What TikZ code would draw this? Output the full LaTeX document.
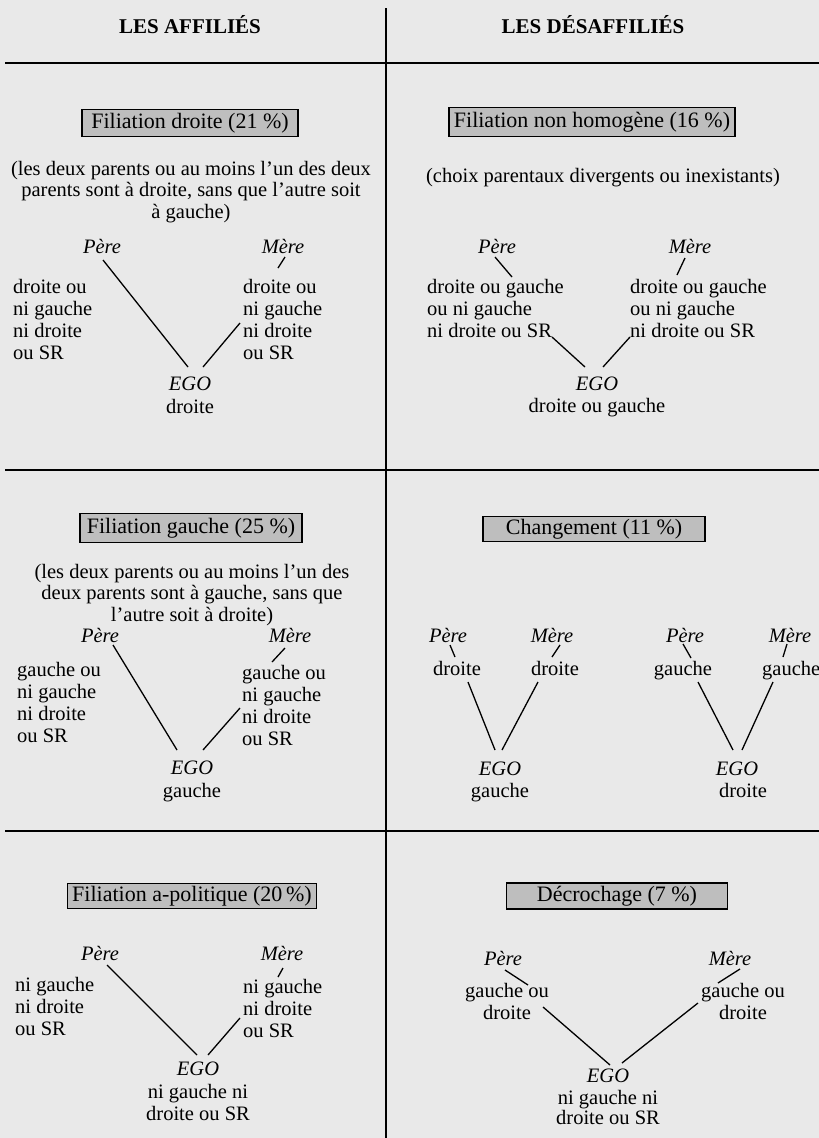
\documentclass[tikz,border=0pt]{standalone}
\usepackage{fontspec}
\setmainfont{Liberation Serif}
\definecolor{paper}{RGB}{233,233,233}
\definecolor{boxgray}{RGB}{190,190,190}
\newcommand\txtsize{\fontsize{20.5}{22}\selectfont}
\newcommand\parsize{\fontsize{20.5}{21.5}\selectfont}
\newcommand\boxsize{\fontsize{22}{24}\selectfont}
\newcommand\headsize{\fontsize{21}{22}\selectfont}
\begin{document}
\begin{tikzpicture}[x=1pt,y=-1pt,
  every node/.style={inner sep=0pt, font=\txtsize},
  rule/.style={line width=1.8pt},
  link/.style={line width=1.3pt},
  titlebox/.style={draw, fill=boxgray, line width=1.5pt, font=\boxsize},
  para/.style={align=center, anchor=base, font=\parsize},
  lst/.style={align=left, anchor=base west},
  who/.style={font=\txtsize\itshape, anchor=base},
  word/.style={anchor=base},
  head/.style={font=\headsize\bfseries, anchor=base}]
\fill[paper] (0,0) rectangle (819,1138);
\useasboundingbox (0,0) rectangle (819,1138);
% frame
\coordinate (vt) at (386,8); \coordinate (vb) at (386,1138);
\coordinate (h1a) at (5,63);  \coordinate (h1b) at (819,63);
\coordinate (h2a) at (5,470); \coordinate (h2b) at (819,470);
\coordinate (h3a) at (5,831); \coordinate (h3b) at (819,831);
\draw[rule] (vt) -- (vb);
\draw[rule] (h1a) -- (h1b);
\draw[rule] (h2a) -- (h2b);
\draw[rule] (h3a) -- (h3b);
\node[head] (hA) at (190,33) {LES AFFILIÉS};
\node[head] (hD) at (593,33) {LES DÉSAFFILIÉS};

% ---- Row 1 left  (multi-line nodes: base = last line)
\node[titlebox, minimum width=216pt, minimum height=27pt] (b1) at (190,123) {Filiation droite (21~\%)};
\node[para] (d1) at (191,218) {(les deux parents ou au moins l'un des deux\\parents sont à droite, sans que l'autre soit\\à gauche)};
\node[who] (p1) at (102,253) {Père};
\node[who] (m1) at (283,253) {Mère};
\node[lst] (l1) at (13,359) {droite ou\\ni gauche\\ni droite\\ou SR};
\node[lst] (r1) at (243,359) {droite ou\\ni gauche\\ni droite\\ou SR};
\node[who] (e1) at (190,390) {EGO};
\node[word] (v1) at (190,413) {droite};
\coordinate (a1) at (103,260); \coordinate (a2) at (188,367);
\coordinate (a3) at (285,257); \coordinate (a4) at (278,268);
\coordinate (a5) at (240,323); \coordinate (a6) at (203,367);
\draw[link] (a1) -- (a2); \draw[link] (a3) -- (a4); \draw[link] (a5) -- (a6);

% ---- Row 1 right
\node[titlebox, minimum width=286pt, minimum height=29pt] (b2) at (592,122) {Filiation non homogène (16~\%)};
\node[para] (d2) at (603,182) {(choix parentaux divergents ou inexistants)};
\node[who] (p2) at (497,253) {Père};
\node[who] (m2) at (690,253) {Mère};
\node[lst] (l2) at (427,337) {droite ou gauche\\ou ni gauche\\ni droite ou SR};
\node[lst] (r2) at (630,337) {droite ou gauche\\ou ni gauche\\ni droite ou SR};
\node[who] (e2) at (597,390) {EGO};
\node[word] (v2) at (597,412) {droite ou gauche};
\coordinate (c1) at (495,257); \coordinate (c2) at (512,277);
\coordinate (c3) at (685,258); \coordinate (c4) at (677,275);
\coordinate (c5) at (552,337); \coordinate (c6) at (585,367);
\coordinate (c7) at (630,337); \coordinate (c8) at (603,367);
\draw[link] (c1) -- (c2); \draw[link] (c3) -- (c4);
\draw[link] (c5) -- (c6); \draw[link] (c7) -- (c8);

% ---- Row 2 left
\node[titlebox, minimum width=222pt, minimum height=29pt] (b3) at (191,528) {Filiation gauche (25~\%)};
\node[para] (d3) at (192,621) {(les deux parents ou au moins l'un des\\deux parents sont à gauche, sans que\\l'autre soit à droite)};
\node[who] (p3) at (100,642) {Père};
\node[who] (m3) at (290,642) {Mère};
\node[lst] (l3) at (17,742) {gauche ou\\ni gauche\\ni droite\\ou SR};
\node[lst] (r3) at (242,745) {gauche ou\\ni gauche\\ni droite\\ou SR};
\node[who] (e3) at (192,774) {EGO};
\node[word] (v3) at (192,797) {gauche};
\coordinate (f1) at (113,645); \coordinate (f2) at (177,750);
\coordinate (f3) at (285,648); \coordinate (f4) at (272,662);
\coordinate (f5) at (240,708); \coordinate (f6) at (203,750);
\draw[link] (f1) -- (f2); \draw[link] (f3) -- (f4); \draw[link] (f5) -- (f6);

% ---- Row 2 right
\node[titlebox, minimum width=222pt, minimum height=25pt] (b4) at (594,529) {Changement (11~\%)};
\node[who] (p4) at (448,642) {Père};
\node[who] (m4) at (552,642) {Mère};
\node[who] (p5) at (685,642) {Père};
\node[who] (m5) at (790,642) {Mère};
\node[word] (w4a) at (457,675) {droite};
\node[word] (w4b) at (555,675) {droite};
\node[word] (w5a) at (683,675) {gauche};
\node[anchor=base west] (w5b) at (762,675) {gauche};
\node[who] (e4) at (500,775) {EGO};
\node[who] (e5) at (737,775) {EGO};
\node[word] (v4) at (500,797) {gauche};
\node[word] (v5) at (743,797) {droite};
\coordinate (g1) at (450,645); \coordinate (g2) at (455,657);
\coordinate (g3) at (560,645); \coordinate (g4) at (552,657);
\coordinate (g5) at (683,644); \coordinate (g6) at (691,658);
\coordinate (g7) at (787,644); \coordinate (g8) at (783,657);
\coordinate (g9) at (468,682); \coordinate (g10) at (495,750);
\coordinate (g11) at (538,682); \coordinate (g12) at (502,750);
\coordinate (g13) at (698,682); \coordinate (g14) at (733,750);
\coordinate (g15) at (773,682); \coordinate (g16) at (742,750);
\draw[link] (g1) -- (g2); \draw[link] (g3) -- (g4);
\draw[link] (g5) -- (g6); \draw[link] (g7) -- (g8);
\draw[link] (g9) -- (g10); \draw[link] (g11) -- (g12);
\draw[link] (g13) -- (g14); \draw[link] (g15) -- (g16);

% ---- Row 3 left
\node[titlebox, minimum width=249pt, minimum height=25pt] (b6) at (192,896) {Filiation a-politique (20\,\%)};
\node[who] (p6) at (100,960) {Père};
\node[who] (m6) at (282,960) {Mère};
\node[lst] (l6) at (15,1035) {ni gauche\\ni droite\\ou SR};
\node[lst] (r6) at (243,1037) {ni gauche\\ni droite\\ou SR};
\node[who] (e6) at (198,1075) {EGO};
\node[para, font=\txtsize] (v6) at (198,1120) {ni gauche ni\\droite ou SR};
\coordinate (k1) at (107,965); \coordinate (k2) at (197,1055);
\coordinate (k3) at (283,968); \coordinate (k4) at (278,977);
\coordinate (k5) at (240,1018); \coordinate (k6) at (208,1055);
\draw[link] (k1) -- (k2); \draw[link] (k3) -- (k4); \draw[link] (k5) -- (k6);

% ---- Row 3 right
\node[titlebox, minimum width=221pt, minimum height=26pt] (b7) at (617,896) {Décrochage (7~\%)};
\node[who] (p7) at (503,965) {Père};
\node[who] (m7) at (730,965) {Mère};
\node[para] (l7) at (507,1019) {gauche ou\\droite};
\node[para] (r7) at (743,1019) {gauche ou\\droite};
\node[who] (e7) at (608,1082) {EGO};
\node[para, font=\fontsize{20.5}{20}\selectfont] (v7) at (608,1124) {ni gauche ni\\droite ou SR};
\coordinate (n1) at (505,970); \coordinate (n2) at (528,985);
\coordinate (n3) at (740,969); \coordinate (n4) at (718,983);
\coordinate (n5) at (543,1007); \coordinate (n6) at (610,1065);
\coordinate (n7) at (698,1003); \coordinate (n8) at (622,1063);
\draw[link] (n1) -- (n2); \draw[link] (n3) -- (n4);
\draw[link] (n5) -- (n6); \draw[link] (n7) -- (n8);
\end{tikzpicture}
\end{document}
